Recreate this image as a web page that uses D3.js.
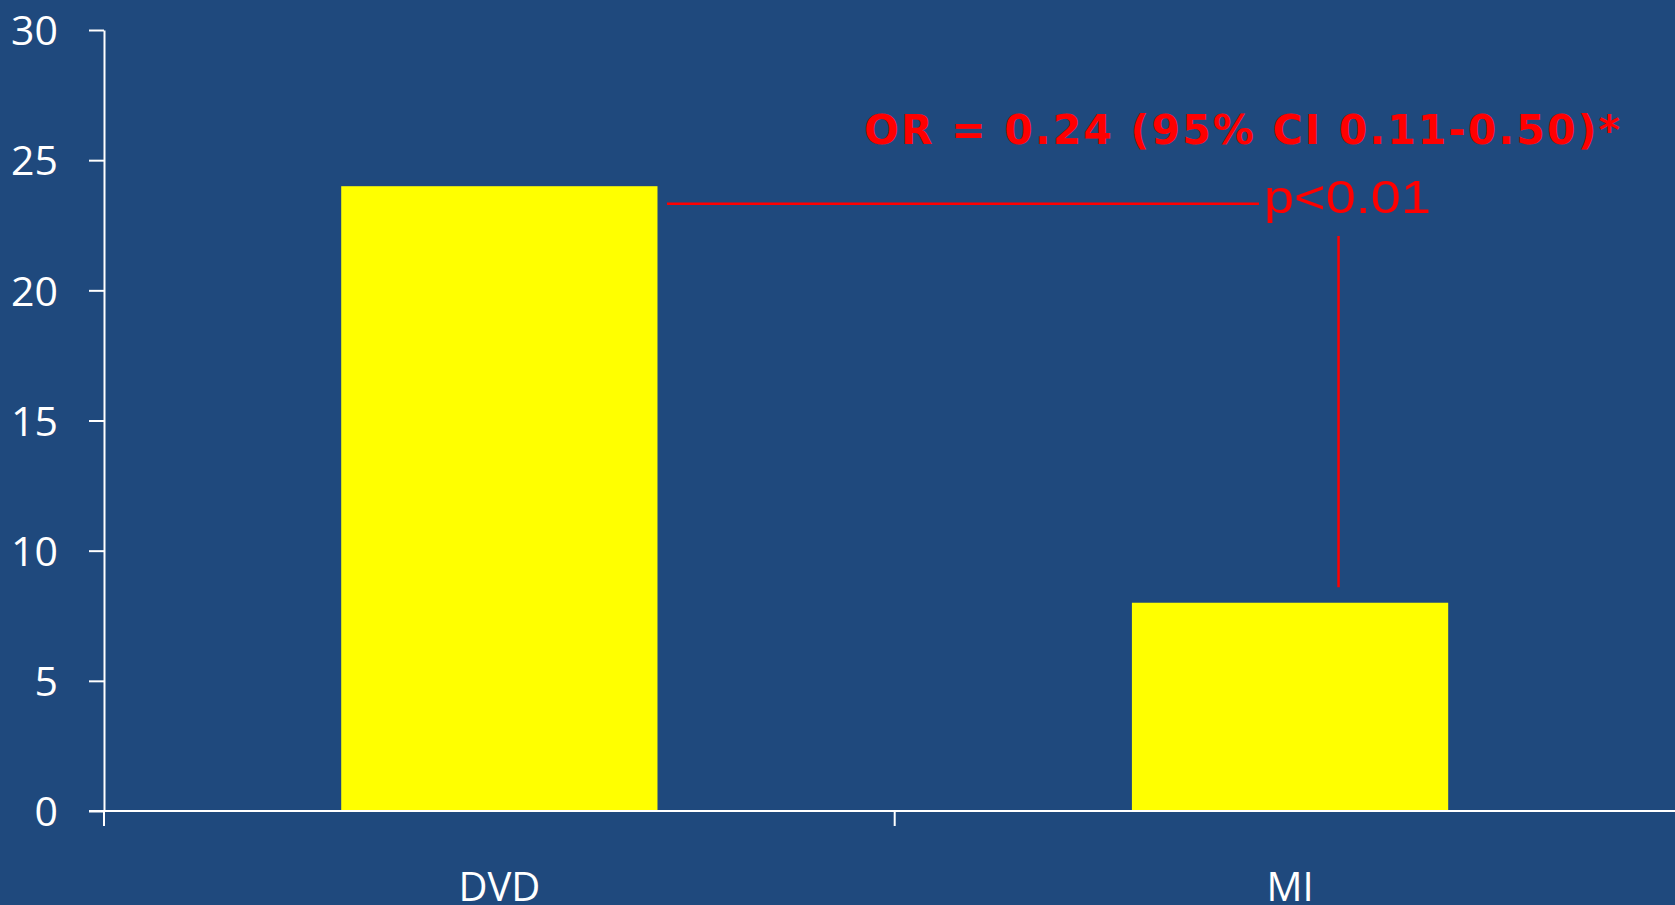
<!DOCTYPE html>
<html>
<head>
<meta charset="utf-8">
<script src="https://cdn.jsdelivr.net/npm/d3@7"></script>
<style>
  html, body { margin: 0; padding: 0; background: #1F497D; overflow: hidden; }
  svg { display: block; }
</style>
</head>
<body>
<svg id="chart" width="1675" height="905"></svg>
<script>
// Chart data
const categories = ["DVD", "MI"];
const values = [24, 8];
const yTicks = [0, 5, 10, 15, 20, 25, 30];
const oddsLabel = "OR = 0.24 (95% CI 0.11-0.50)*";
const pLabel = "p<0.01";

const width = 1675, height = 905;
const svg = d3.select("#chart");

svg.append("rect").attr("width", width).attr("height", height).attr("fill", "#1F497D");

const x = d3.scaleBand().domain(categories).range([104, 1685.4]).padding(0);
const y = d3.scaleLinear().domain([0, 30]).range([811, 30]);

const barFrac = 0.4;
const bw = x.bandwidth() * barFrac;

// Bars
svg.append("g").selectAll("rect")
  .data(categories.map((c, i) => ({ c, v: values[i] })))
  .join("rect")
  .attr("x", d => x(d.c) + (x.bandwidth() - bw) / 2)
  .attr("y", d => y(d.v))
  .attr("width", bw)
  .attr("height", d => y(0) - y(d.v))
  .attr("fill", "#FFFF00");

// Y axis
const yAxis = d3.axisLeft(y).tickValues(yTicks).tickSize(15).tickPadding(31).tickSizeOuter(0);
const gy = svg.append("g").attr("transform", "translate(104,0)").call(yAxis);
gy.select(".domain").attr("stroke", "#FFFFFF").attr("stroke-width", 2);
gy.selectAll(".tick line").attr("stroke", "#FFFFFF").attr("stroke-width", 2);
gy.selectAll(".tick text")
  .attr("fill", "#FFFFFF")
  .attr("font-family", "'Open Sans', sans-serif")
  .attr("font-size", 41)
  .attr("dy", "0.36em");

// X axis: baseline plus band boundary ticks
const gx = svg.append("g");
gx.append("line")
  .attr("x1", 89).attr("x2", x.range()[1])
  .attr("y1", y(0)).attr("y2", y(0))
  .attr("stroke", "#FFFFFF").attr("stroke-width", 2);
gx.selectAll("line.bound")
  .data(categories)
  .join("line")
  .attr("class", "bound")
  .attr("x1", d => x(d)).attr("x2", d => x(d))
  .attr("y1", y(0)).attr("y2", y(0) + 15)
  .attr("stroke", "#FFFFFF").attr("stroke-width", 2);
gx.selectAll("text")
  .data(categories)
  .join("text")
  .attr("x", d => x(d) + x.bandwidth() / 2)
  .attr("y", 901)
  .attr("text-anchor", "middle")
  .attr("fill", "#FFFFFF")
  .attr("font-family", "'Open Sans', sans-serif")
  .attr("font-size", 40)
  .text(d => d);

// Significance bracket
const dvdRight = x("DVD") + (x.bandwidth() + bw) / 2;
const miCenter = x("MI") + x.bandwidth() / 2;
const bracketY = y(values[0]) + 17.5;
const ann = svg.append("g");
ann.append("line")
  .attr("x1", dvdRight + 9.5).attr("x2", 1259)
  .attr("y1", bracketY).attr("y2", bracketY)
  .attr("stroke", "#FF0000").attr("stroke-width", 2.5);
ann.append("line")
  .attr("x1", miCenter + 48.5).attr("x2", miCenter + 48.5)
  .attr("y1", 236).attr("y2", y(values[1]) - 15.5)
  .attr("stroke", "#FF0000").attr("stroke-width", 2.5);

ann.append("text")
  .attr("x", 1264).attr("y", 213.3)
  .attr("fill", "#FF0000")
  .attr("font-family", "'Liberation Sans', Arial, sans-serif")
  .attr("font-size", 46)
  .attr("textLength", 167)
  .attr("lengthAdjust", "spacingAndGlyphs")
  .text(pLabel);

ann.append("text")
  .attr("x", 864).attr("y", 144.3)
  .attr("fill", "#FF0000")
  .attr("font-family", "'DejaVu Sans', sans-serif")
  .attr("font-weight", "bold")
  .attr("font-size", 41)
  .attr("textLength", 756)
  .attr("lengthAdjust", "spacing")
  .text(oddsLabel);
</script>
</body>
</html>
